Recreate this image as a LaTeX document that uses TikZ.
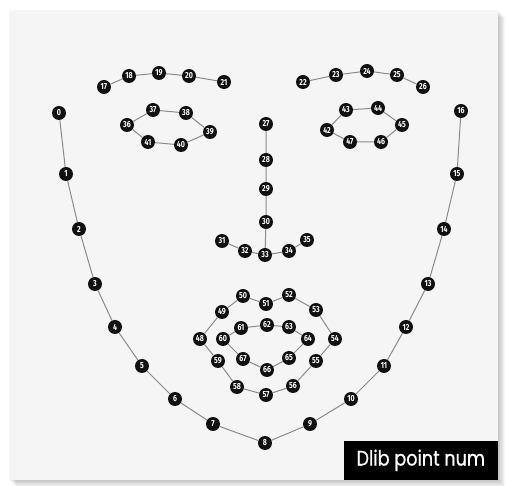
\documentclass[tikz,border=0pt]{standalone}
\usepackage{fontspec}
\usepackage{tikz}
\setmainfont{Fira Sans}
\newfontfamily\numfont[FakeStretch=0.8]{Fira Sans}
\newfontfamily\tagfont[FakeStretch=0.84, FakeBold=0.6]{Poppins}
\definecolor{Card}{HTML}{F5F5F5}
\definecolor{Dot}{HTML}{111111}
\definecolor{EdgeGray}{HTML}{8A8A8A}

\begin{document}
\begin{tikzpicture}[
  x=1pt, y=-1pt,
  landmark/.style={circle, fill=Dot, text=white, inner sep=0pt, minimum size=14pt, font=\numfont\bfseries\fontsize{8.8}{8.8}\selectfont},
  edge/.style={draw=EdgeGray, line width=1pt},
  tagbox/.style={rectangle, fill=black, text=white, inner sep=0pt, minimum width=154pt, minimum height=39pt, font=\tagfont\fontsize{21}{21}\selectfont}
]
\useasboundingbox (0,0) rectangle (507,486);
\foreach \k in {1,...,7}
  \fill[black, opacity=0.035] (9+\k,10+\k) rectangle (498+\k,480+\k);
\fill[Card] (9,10) rectangle (498,480);

% jaw
\foreach \n/\x/\y in {0/59/113, 1/66/174, 2/79/229, 3/95/284, 4/115/327, 5/142/366, 6/175/399, 7/213/424, 8/265/443,
  9/310/424, 10/351/399, 11/384/366, 12/406/327, 13/428/284, 14/444/229, 15/457/174, 16/461/111}
  \node[landmark] (p\n) at (\x,\y) {\n};
% brows
\foreach \n/\x/\y in {17/104/87, 18/129/76, 19/159/73, 20/189/76, 21/224/82,
  22/303/82, 23/336/75, 24/367/71, 25/397/75, 26/423/87}
  \node[landmark] (p\n) at (\x,\y) {\n};
% nose
\foreach \n/\x/\y in {27/266/124, 28/266/160, 29/266/189, 30/266/222,
  31/222/241, 32/245/251, 33/265/255, 34/289/251, 35/307/240}
  \node[landmark] (p\n) at (\x,\y) {\n};
% eyes
\foreach \n/\x/\y in {36/127/125, 37/153/110, 38/186/113, 39/210/132, 40/181/145, 41/148/142,
  42/327/130, 43/346/110, 44/378/108, 45/402/125, 46/381/142, 47/350/142}
  \node[landmark] (p\n) at (\x,\y) {\n};
% lips
\foreach \n/\x/\y in {48/200/339, 49/222/312, 50/243/296, 51/266/304, 52/289/295, 53/316/310,
  54/335/339, 55/316/361, 56/293/386, 57/266/395, 58/237/387, 59/218/361,
  60/223/339, 61/241/328, 62/267/325, 63/289/327, 64/308/339, 65/289/358, 66/267/370, 67/243/359}
  \node[landmark] (p\n) at (\x,\y) {\n};

\draw[edge] (p0) -- (p1) -- (p2) -- (p3) -- (p4) -- (p5) -- (p6) -- (p7) -- (p8)
  -- (p9) -- (p10) -- (p11) -- (p12) -- (p13) -- (p14) -- (p15) -- (p16);
\draw[edge] (p17) -- (p18) -- (p19) -- (p20) -- (p21);
\draw[edge] (p22) -- (p23) -- (p24) -- (p25) -- (p26);
\draw[edge] (p27) -- (p28) -- (p29) -- (p30) -- (p33);
\draw[edge] (p31) -- (p32) -- (p33) -- (p34) -- (p35);
\draw[edge] (p36) -- (p37) -- (p38) -- (p39) -- (p40) -- (p41) -- (p36);
\draw[edge] (p42) -- (p43) -- (p44) -- (p45) -- (p46) -- (p47) -- (p42);
\draw[edge] (p48) -- (p49) -- (p50) -- (p51) -- (p52) -- (p53) -- (p54)
  -- (p55) -- (p56) -- (p57) -- (p58) -- (p59) -- (p48);
\draw[edge] (p60) -- (p61) -- (p62) -- (p63) -- (p64) -- (p65) -- (p66) -- (p67) -- (p60);

\node[tagbox, anchor=south east] (tag) at (498,480) {Dlib point num};
\end{tikzpicture}
\end{document}
